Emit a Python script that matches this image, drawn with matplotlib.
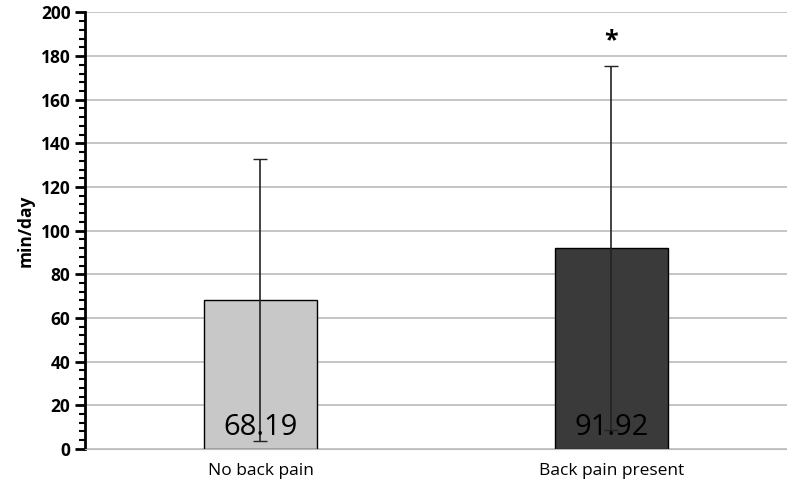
import matplotlib; matplotlib.use("Agg")
import matplotlib.pyplot as plt
from matplotlib.ticker import MultipleLocator

categories = ["No back pain", "Back pain present"]
means = [68.19, 91.92]
sds = [64.5, 83.3]
colors = ["#c8c8c8", "#3a3a3a"]

plt.rcParams["font.family"] = "Open Sans"
fig = plt.figure(figsize=(7.87, 4.96), dpi=100)
ax = fig.add_axes([0.108, 0.095, 0.892, 0.88])
x = [0, 1]
ax.bar(x, means, width=0.32, color=colors, edgecolor="black", linewidth=1, zorder=2)
ax.errorbar(x, means, yerr=sds, fmt="none", ecolor="#222222", elinewidth=1.2, capsize=5, zorder=3)
for xi, m in zip(x, means):
    ax.text(xi, 10, f"{m:.2f}", ha="center", va="center", fontsize=21, zorder=4)
ax.text(1, means[1] + sds[1] + 6, "*", ha="center", va="bottom", fontsize=18, fontweight="bold")

ax.set_xlim(-0.5, 1.5)
ax.set_ylim(0, 200)
ax.yaxis.set_major_locator(MultipleLocator(20))
ax.yaxis.set_minor_locator(MultipleLocator(4))
ax.yaxis.grid(True, color="#bbbbbb", linewidth=1.2, zorder=0)
ax.set_axisbelow(True)
for s in ["top", "right"]:
    ax.spines[s].set_visible(False)
ax.spines["left"].set_linewidth(2)
ax.spines["bottom"].set_color("#bbbbbb")
ax.tick_params(axis="y", which="major", length=7, width=2, labelsize=12.5)
ax.tick_params(axis="y", which="minor", length=4, width=1.5)
ax.tick_params(axis="x", length=0, labelsize=12.5, pad=10)
for lab in ax.get_yticklabels():
    lab.set_fontweight("bold")
ax.set_xticks(x)
ax.set_xticklabels(categories)
ax.set_ylabel("min/day", fontsize=12.5, fontweight="bold")
fig.savefig("out.png", dpi=100)
